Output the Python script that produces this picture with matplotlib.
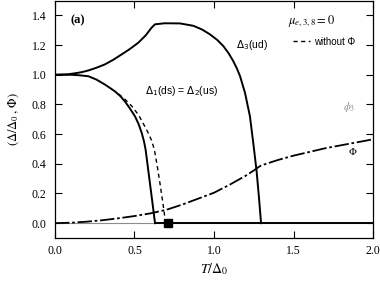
import numpy as np
import matplotlib
matplotlib.use("Agg")
import matplotlib.pyplot as plt
from matplotlib.lines import Line2D

# Delta_1(ds) = Delta_2(us), with Phi
t_d1 = [0.0, 0.1, 0.15, 0.21, 0.26, 0.314, 0.345, 0.377, 0.41, 0.44, 0.47, 0.503, 0.525, 0.545,
        0.56, 0.57, 0.585, 0.6, 0.615, 0.629]
d1 = [1.0, 1.0, 0.997, 0.99, 0.968, 0.934, 0.912, 0.888, 0.857, 0.82, 0.775, 0.72, 0.67, 0.61,
      0.55, 0.495, 0.37, 0.245, 0.12, 0.0]

# Delta_1 without Phi (dashed)
t_d1n = [0.40, 0.44, 0.482, 0.525, 0.566, 0.59, 0.608, 0.625, 0.643, 0.66, 0.678, 0.696]
d1n = [0.87, 0.835, 0.79, 0.73, 0.65, 0.60, 0.556, 0.495, 0.385, 0.27, 0.14, 0.0]

# Delta_3(ud)
t_d3 = [0.0, 0.08, 0.126, 0.17, 0.21, 0.26, 0.314, 0.365, 0.419, 0.47, 0.524, 0.57, 0.608, 0.629,
        0.69, 0.786, 0.87, 0.925, 0.975, 1.02, 1.059, 1.092, 1.121, 1.145, 1.164, 1.195, 1.226,
        1.247, 1.268, 1.283, 1.296]
d3 = [1.0, 1.003, 1.01, 1.018, 1.029, 1.047, 1.07, 1.1, 1.137, 1.173, 1.216, 1.265, 1.318, 1.34,
      1.347, 1.346, 1.33, 1.305, 1.272, 1.235, 1.193, 1.145, 1.092, 1.04, 0.99, 0.878, 0.72,
      0.54, 0.35, 0.17, 0.0]

# Phi (Polyakov loop)
t_phi = [0.0, 0.1, 0.2, 0.3, 0.4, 0.5, 0.6, 0.7, 0.8, 0.9, 1.0, 1.1, 1.2, 1.25, 1.29, 1.3, 1.4, 1.5,
         1.6, 1.7, 1.8, 1.9, 2.0]
phi = [0.0, 0.003, 0.01, 0.02, 0.033, 0.048, 0.066, 0.09, 0.125, 0.165, 0.205, 0.26, 0.32, 0.355,
       0.385, 0.39, 0.425, 0.455, 0.48, 0.505, 0.525, 0.545, 0.565]

# zero branches
t_zero = [0.629, 2.0]
zero_vals = [0.0, 0.0]
t_phi3 = [0.0, 2.0]
phi3 = [0.0, 0.0]

# critical point marker
t_cp = [0.713]
cp = [0.0]

plt.rcParams['font.family'] = ['Liberation Serif', 'DejaVu Serif']
plt.rcParams['mathtext.fontset'] = 'stix'

fig = plt.figure(figsize=(3.8, 2.82), dpi=100)
ax = fig.add_axes([0.1447, 0.156, 0.8369, 0.842])

ax.plot(t_phi3, phi3, color='0.55', lw=0.8)
ax.plot(t_d1, d1, color='black', lw=1.4)
ax.plot(t_d1n, d1n, color='black', lw=1.0, ls=(0, (3, 2.5)))
ax.plot(t_d3, d3, color='black', lw=1.4)
ax.plot(t_phi, phi, color='black', lw=1.3, ls=(0, (8, 1.5, 1.5, 1.5)))
ax.plot(t_zero, zero_vals, color='black', lw=1.4)
ax.plot(t_cp, cp, ls='none', marker='s', color='black', ms=6)

ax.set_xlim(0, 2.0)
ax.set_ylim(-0.1, 1.5)
ax.set_xticks([0.0, 0.5, 1.0, 1.5, 2.0])
ax.set_yticks([0.0, 0.2, 0.4, 0.6, 0.8, 1.0, 1.2, 1.4])
ax.xaxis.set_major_formatter(matplotlib.ticker.FormatStrFormatter('%.1f'))
ax.yaxis.set_major_formatter(matplotlib.ticker.FormatStrFormatter('%.1f'))
ax.tick_params(direction='in', length=5, width=0.8, top=True, right=True, labelsize=8.5)
ax.tick_params(axis='x', pad=5)
ax.tick_params(axis='y', pad=6)
for s in ax.spines.values():
    s.set_linewidth(0.9)

ax.set_xlabel(r'$T/\Delta_0$', fontsize=10, labelpad=3)
ax.set_ylabel(r'$(\Delta/\Delta_0\,,\,\Phi)$', fontsize=9, labelpad=8)

sans = ['Liberation Sans', 'DejaVu Sans']
ax.text(0.095, 1.37, '(a)', fontsize=9, fontweight='bold', va='center', ha='left')
ax.text(1.14, 1.2, r'$\Delta_3$(ud)', fontsize=7.5, va='center', ha='left', family=sans,
        math_fontfamily='dejavusans')
ax.text(0.566, 0.89, r'$\Delta_1$(ds) = $\Delta_2$(us)', fontsize=7.5, va='center', ha='left',
        family=sans, math_fontfamily='dejavusans')
ax.text(1.467, 1.365, r'$\mu_{e,3,8} = 0$', fontsize=9, va='center', ha='left')
ax.legend(handles=[Line2D([], [], color='black', lw=1.0, ls=(0, (3, 2.5)))],
          labels=['without Φ'], loc='center left', bbox_to_anchor=(0.72, 0.826),
          frameon=False, handlelength=1.8, handletextpad=0.4,
          prop={'family': sans, 'size': 7})
ax.text(1.81, 0.78, r'$\phi_3$', fontsize=8, color='0.55', va='center', ha='left')
ax.text(1.84, 0.48, r'$\Phi$', fontsize=7.5, color='black', va='center', ha='left')

fig.savefig('out.png', dpi=100)
